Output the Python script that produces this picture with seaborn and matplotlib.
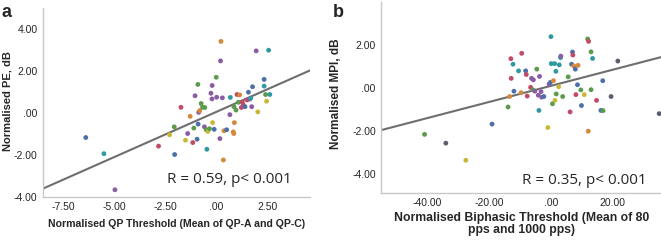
import matplotlib
matplotlib.use("Agg")
import matplotlib.pyplot as plt
import numpy as np
import pandas as pd
import seaborn as sns

# panel a: normalised QP threshold vs normalised PE
qp_x = [-6.40, -5.51, -4.97, -2.83, -2.29, -2.06, -2.04, -1.73, -1.51, -1.40,
        -1.28, -1.15, -1.10, -1.04, -0.94, -0.90, -0.89, -0.86, -0.81, -0.74,
        -0.67, -0.56, -0.58, -0.49, -0.46, -0.41, -0.33, -0.26, -0.21, -0.20,
        -0.18, -0.10, 0.00, 0.02, 0.18, 0.21, 0.23, 0.30, 0.35, 0.38,
        0.51, 0.67, 0.69, 0.84, 0.86, 0.89, 0.87, 0.97, 1.02, 1.09,
        1.15, 1.23, 1.28, 1.33, 1.41, 1.51, 1.58, 1.64, 1.69, 1.74,
        1.78, 1.96, 2.04, 2.35, 2.35, 2.42, 2.47, 2.57, 2.63]
pe_y = [-1.17, -1.94, -3.66, -1.58, -1.04, -0.66, -1.98, 0.27, -1.30, -0.98,
        -0.16, -1.41, -0.72, 0.82, -1.25, 1.36, -0.53, 0.03, 0.11, 0.45,
        0.27, 0.26, -0.66, -0.80, -1.73, -0.88, -0.75, 0.94, 0.67, 1.31,
        -0.46, -0.78, 1.70, 0.75, -1.22, 2.48, 3.41, 0.72, -2.24, -0.85,
        -0.80, -0.08, 0.74, -0.90, -0.98, -0.46, 0.30, 0.14, 0.88, 0.51,
        0.86, 0.26, 0.51, 0.38, 0.30, 0.62, 0.99, 0.66, 0.70, 0.30,
        1.25, 2.96, 0.05, 1.60, 1.28, 0.88, 0.56, 2.99, 0.88]
qp_group = list("btprygbryporgpbgbpogggpgtygpppybgpppopoobptoooggrgorrrbrbptpbpybtgyt")
qp_group = qp_group + ["t"] * (len(qp_x) - len(qp_group))
fit_a = (0.05, 0.43)  # intercept, slope

# panel b: normalised biphasic threshold vs normalised MPI
bi_x = [-41.0, -34.1, -27.6, -19.1, -13.9, -13.4, -12.9, -13.0, -12.3, -12.0,
        -10.5, -9.7, -9.5, -8.2, -8.0, -7.7, -6.6, -6.3, -5.7, -5.8,
        -5.2, -4.6, -4.1, -3.9, -3.7, -3.2, -3.0, -2.3, -1.0, -0.6,
        0.0, -0.2, 0.1, 0.5, 0.8, 1.2, 1.3, 1.6, 1.7, 2.5,
        2.7, 3.1, 3.2, 3.8, 5.6, 6.2, 6.7, 7.0, 7.1, 7.4,
        7.9, 8.1, 8.6, 8.8, 9.7, 9.9, 10.8, 11.9, 12.2, 12.1,
        13.0, 13.0, 13.5, 14.8, 16.2, 16.9, 16.8, 19.5, 21.7, 35.1]
mpi_y = [-2.17, -2.58, -3.38, -1.69, -0.89, -0.40, 0.45, 1.37, 1.11, -0.15,
         0.80, -0.22, 1.62, 0.80, 0.63, -0.38, 0.03, 0.45, 0.38, -0.09,
         -0.15, 0.88, -0.34, -1.05, 0.54, -0.17, -0.43, -0.40, -1.85, 0.18,
         2.40, 0.26, 1.14, -0.74, 0.34, 1.14, -0.58, 0.78, -0.28, 0.06,
         1.08, 1.42, 1.49, -0.40, 0.52, -1.12, 1.11, 1.68, 1.54, 1.03,
         0.88, -0.31, 0.15, 1.06, -0.09, -0.82, -0.31, 2.29, 2.18, -2.02,
         -0.08, 1.69, 1.38, -0.58, -1.05, -1.06, 0.34, -0.40, 1.26, -1.20]
bi_group = list("gkybgorrtbtorbrrrppgpgptpppbyptbtgotytgyttpgg" "rbbrobrbogbygrogg" "trbgbkk")
bi_group = bi_group + ["k"] * (len(bi_x) - len(bi_group))
fit_b = (0.10, 0.0376)

palette = {"b": "#4d6fa8", "t": "#2f9aa0", "p": "#8a5ca6", "r": "#c24a66",
           "y": "#c9b838", "o": "#d4883c", "g": "#5c9a4c", "k": "#5a5f70"}

sns.set_style("white")
plt.rcParams["font.family"] = ["Liberation Sans", "DejaVu Sans"]

fig = plt.figure(figsize=(6.61, 2.44), dpi=100)
ax1 = fig.add_axes([0.065, 0.193, 0.404, 0.774])
ax2 = fig.add_axes([0.577, 0.21, 0.423, 0.78])

df_a = pd.DataFrame({"x": qp_x, "y": pe_y, "g": qp_group[:len(qp_x)]})
df_b = pd.DataFrame({"x": bi_x, "y": mpi_y, "g": bi_group[:len(bi_x)]})

for ax, df, fit in [(ax1, df_a, fit_a), (ax2, df_b, fit_b)]:
    sns.scatterplot(data=df, x="x", y="y", hue="g", palette=palette, s=12,
                    linewidth=0, legend=False, ax=ax, clip_on=False, zorder=3)
    ax.axline((0, fit[0]), slope=fit[1], color="#6e6e6e", lw=1.5, zorder=2)
    for side in ["top", "right"]:
        ax.spines[side].set_visible(False)
    for side in ["left", "bottom"]:
        ax.spines[side].set_color("#c8c8c8")
        ax.spines[side].set_linewidth(1.0)
    ax.tick_params(length=0, labelsize=7.5, pad=4)

ax1.set_xlim(-8.5, 4.6)
ax1.set_ylim(-4, 5)
ax1.set_xticks([-7.5, -5, -2.5, 0, 2.5], ["-7.50", "-5.00", "-2.50", ".00", "2.50"])
ax1.set_yticks([-4, -2, 0, 2, 4], ["-4.00", "-2.00", ".00", "2.00", "4.00"])
ax1.set_xlabel("Normalised QP Threshold (Mean of QP-A and QP-C)", fontsize=7.6,
               fontweight="bold", labelpad=5)
ax1.set_ylabel("Normalised PE, dB", fontsize=8, fontweight="bold")
ax1.yaxis.set_label_coords(-0.115, 0.51)
ax1.text(0.93, 0.09, "R = 0.59, p< 0.001", transform=ax1.transAxes, ha="right",
         va="center", fontsize=11, family=["Open Sans", "DejaVu Sans"])

ax2.set_xlim(-55, 35.7)
ax2.set_ylim(-4.9, 4.0)
ax2.set_xticks([-40, -20, 0, 20], ["-40.00", "-20.00", ".00", "20.00"])
ax2.set_yticks([-4, -2, 0, 2], ["-4.00", "-2.00", ".00", "2.00"])
ax2.set_xlabel("Normalised Biphasic Threshold (Mean of 80\npps and 1000 pps)",
               fontsize=8.8, fontweight="bold", labelpad=3, linespacing=0.95)
ax2.set_ylabel("Normalised MPI, dB", fontsize=8.5, fontweight="bold")
ax2.yaxis.set_label_coords(-0.14, 0.52)
ax2.text(0.95, 0.062, "R = 0.35, p< 0.001", transform=ax2.transAxes, ha="right",
         va="center", fontsize=11, family=["Open Sans", "DejaVu Sans"])

fig.text(0.002, 0.985, "a", fontsize=13, fontweight="bold", va="top")
fig.text(0.503, 0.985, "b", fontsize=13, fontweight="bold", va="top")

fig.savefig("out.png", dpi=100)
